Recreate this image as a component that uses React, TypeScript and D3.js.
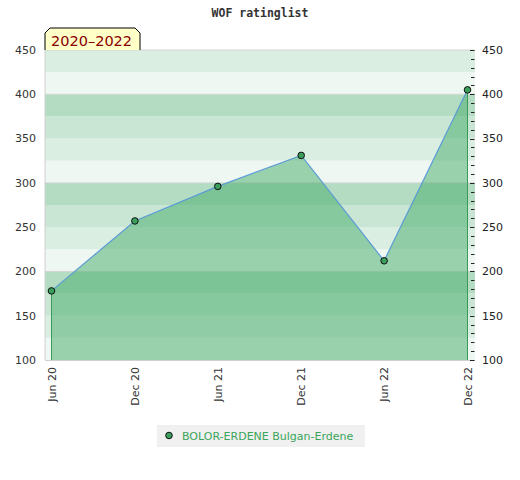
import * as d3 from "d3";

const title = "WOF ratinglist";
const period = "2020–2022";
const playerName = "BOLOR-ERDENE Bulgan-Erdene";

const dates = ["2020-06-01", "2020-12-01", "2021-06-01", "2021-12-01", "2022-06-01", "2022-12-01"];
const ratings = [178, 257, 296, 331, 212, 405];
const yTicks = [100, 150, 200, 250, 300, 350, 400, 450];

const W = 520;
const H = 480;
const left = 45;
const right = 475;
const top = 50;
const bottom = 360;

// band shades, repeating every 100 points
const bandColors = ["#eef7f1", "#dbeee2", "#c8e6d3", "#b3dcc2"];

export default function App() {
  const parse = d3.timeParse("%Y-%m-%d");
  const fmt = d3.timeFormat("%b %y");
  const t = dates.map((d) => parse(d) as Date);

  const x = d3.scaleTime().domain([t[0], t[t.length - 1]]).range([51.5, 467.5]);
  const y = d3.scaleLinear().domain([100, 450]).range([bottom, top]);

  const pts = t.map((d, i) => ({ d, v: ratings[i] }));

  const line = d3
    .line<{ d: Date; v: number }>()
    .x((p) => x(p.d))
    .y((p) => y(p.v));
  const area = d3
    .area<{ d: Date; v: number }>()
    .x((p) => x(p.d))
    .y0(y(100))
    .y1((p) => y(p.v));

  const bands = d3.range(100, 450, 25);
  const minor = d3.range(100, 451, 10);
  const first = pts[0];
  const last = pts[pts.length - 1];

  return (
    <svg
      width={W}
      height={H}
      style={{ position: "absolute", left: 0, top: 0, background: "#fff" }}
      fontFamily="DejaVu Sans"
    >
      <text
        x={W / 2}
        y={17}
        textAnchor="middle"
        fontFamily="DejaVu Sans Mono"
        fontWeight="bold"
        fontSize={11.5}
        fill="#333"
      >
        {title}
      </text>

      {bands.map((b) => (
        <rect
          key={b}
          x={left}
          width={right - left}
          y={y(b + 25)}
          height={y(b) - y(b + 25)}
          fill={bandColors[(b / 25) % 4]}
        />
      ))}
      {[200, 300, 400, 450].map((v) => (
        <line key={v} x1={left} x2={right} y1={y(v)} y2={y(v)} stroke="#d4d4d4" strokeWidth={1} />
      ))}
      <line x1={left} x2={left} y1={top} y2={bottom} stroke="#d0d0d0" />
      <line x1={left} x2={right} y1={bottom + 0.5} y2={bottom + 0.5} stroke="#d0d0d0" />

      <path d={area(pts) || ""} fill="rgb(70,171,105)" fillOpacity={0.5} />
      <line x1={x(first.d)} x2={x(first.d)} y1={y(first.v)} y2={bottom} stroke="#3a9a5a" />
      <line x1={x(last.d)} x2={x(last.d)} y1={y(last.v)} y2={bottom} stroke="#3a9a5a" />
      <path d={line(pts) || ""} fill="none" stroke="#5b9bd5" strokeWidth={1.2} />
      {pts.map((p, i) => (
        <circle key={i} cx={x(p.d)} cy={y(p.v)} r={3.3} fill="#3a9e5c" stroke="#111" strokeWidth={1} />
      ))}

      {minor.map((v) => (
        <line
          key={v}
          x1={right - (v % 50 === 0 ? 5 : 4)}
          x2={right - 0.5}
          y1={Math.round(y(v)) + 0.5}
          y2={Math.round(y(v)) + 0.5}
          stroke="#222"
        />
      ))}

      {yTicks.map((v) => (
        <g key={v} fontSize={11} fill="#333">
          <text x={36} y={y(v)} dy="0.35em" textAnchor="end">
            {v}
          </text>
          <text x={482} y={y(v)} dy="0.35em" textAnchor="start" fill="#222">
            {v}
          </text>
        </g>
      ))}

      {t.map((d, i) => (
        <text
          key={i}
          transform={`translate(${x(d) + 4},${bottom + 7}) rotate(-90)`}
          textAnchor="end"
          fontSize={11}
          fill="#333"
        >
          {fmt(d)}
        </text>
      ))}

      <path
        d={`M${left},${top} L${left},${top - 17} L${left + 5},${top - 22} L${left + 90},${top - 22} L${left + 95},${top - 17} L${left + 95},${top}`}
        fill="#ffffc8"
        stroke="#000"
        strokeWidth={1}
      />
      <text x={left + 6} y={top - 4.5} fontSize={14.5} fill="#8b0000">
        {period}
      </text>

      <rect x={157} y={425} width={208} height={22} fill="#f0f0f0" />
      <circle cx={169} cy={435.5} r={3.3} fill="#3a9e5c" stroke="#111" />
      <text x={182} y={440} fontSize={11} fill="#3aa55a">
        {playerName}
      </text>
    </svg>
  );
}
